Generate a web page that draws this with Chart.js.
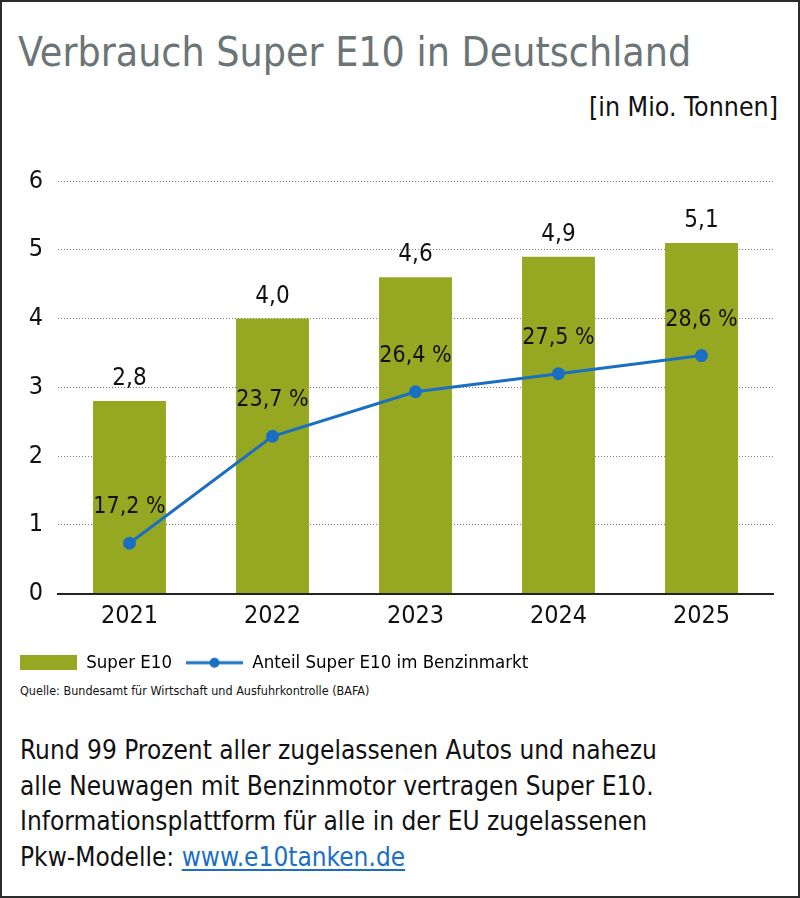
<!DOCTYPE html>
<html>
<head>
<meta charset="utf-8">
<script src="https://cdn.jsdelivr.net/npm/chart.js@4"></script>
<style>
  html, body { margin: 0; padding: 0; background: #fff; }
  #wrap { position: relative; width: 800px; height: 898px; box-sizing: border-box; border: 2px solid #2b2b2b; overflow: hidden; }
  .t { position: absolute; white-space: nowrap; color: #111; }
  #title { left: 16px; top: 26px; font-size: 40.7px; color: #6b7476; }
  #unit { right: 20px; top: 89px; font-size: 26.5px; }
  #src { left: 18px; top: 681px; font-size: 12.5px; }
  #note { left: 18px; top: 731px; font-size: 26px; line-height: 35.5px; white-space: normal; width: 770px; }
  #note a { color: #1a6fc2; text-decoration: underline; text-underline-offset: 3px; }
  #cwrap { position: absolute; left: -2px; top: 148px; width: 798px; height: 532px; }
</style>
</head>
<body>
<div id="wrap">
  <div id="title" class="t">Verbrauch Super E10 in Deutschland</div>
  <div id="unit" class="t">[in Mio. Tonnen]</div>
  <div id="cwrap"><canvas id="c"></canvas></div>
  <div id="src" class="t">Quelle: Bundesamt für Wirtschaft und Ausfuhrkontrolle (BAFA)</div>
  <div id="note" class="t">Rund 99 Prozent aller zugelassenen Autos und nahezu<br>alle Neuwagen mit Benzinmotor vertragen Super E10.<br>Informationsplattform für alle in der EU zugelassenen<br>Pkw-Modelle: <a href="#">www.e10tanken.de</a></div>
</div>
<script>
// ---- data ----
const years = ['2021', '2022', '2023', '2024', '2025'];
const consumption = [2.8, 4.0, 4.6, 4.9, 5.1];        // Mio. Tonnen
const consumptionLabels = ['2,8', '4,0', '4,6', '4,9', '5,1'];
const share = [17.2, 23.7, 26.4, 27.5, 28.6];         // Anteil in %
const shareLabels = ['17,2 %', '23,7 %', '26,4 %', '27,5 %', '28,6 %'];
const yTicks = [0, 1, 2, 3, 4, 5, 6];
const seriesNames = ['Super E10', 'Anteil Super E10 im Benzinmarkt'];

const GREEN = '#96a822';
const BLUE = '#1b6fc2';

// ---- font pick ----
function available(name) {
  const c = document.createElement('canvas').getContext('2d');
  const s = 'abcdefghijklmnopqrstuvwxyz0123456789';
  c.font = '40px monospace'; const a = c.measureText(s).width;
  c.font = '40px "' + name + '", monospace'; const b = c.measureText(s).width;
  c.font = '40px serif'; const a2 = c.measureText(s).width;
  c.font = '40px "' + name + '", serif'; const b2 = c.measureText(s).width;
  return a !== b || a2 !== b2;
}
const cands = ['Liberation Sans Narrow', 'DejaVu Sans Condensed', 'Roboto Condensed', 'Open Sans Condensed', 'Lato'];
let FONT = 'Lato';
for (const f of cands) { if (available(f)) { FONT = f; break; } }
document.getElementById('wrap').style.fontFamily = '"' + FONT + '", sans-serif';

// ---- legend symbols ----
function rectSym() {
  const cv = document.createElement('canvas'); cv.width = 57; cv.height = 15;
  const g = cv.getContext('2d'); g.fillStyle = GREEN; g.fillRect(0, 0, 57, 15); return cv;
}
function lineSym() {
  const cv = document.createElement('canvas'); cv.width = 57; cv.height = 14;
  const g = cv.getContext('2d'); g.strokeStyle = BLUE; g.lineWidth = 3;
  g.beginPath(); g.moveTo(0, 7); g.lineTo(57, 7); g.stroke();
  g.fillStyle = BLUE; g.beginPath(); g.arc(28.5, 7, 5, 0, Math.PI * 2); g.fill(); return cv;
}
const symbols = [rectSym(), lineSym()];

// ---- value labels plugin ----
const valueLabels = {
  id: 'valueLabels',
  afterDatasetsDraw(chart) {
    const ctx = chart.ctx;
    ctx.save();
    ctx.fillStyle = '#111';
    ctx.textAlign = 'center';
    ctx.textBaseline = 'alphabetic';
    ctx.font = '24px "' + FONT + '", sans-serif';
    chart.getDatasetMeta(0).data.forEach((el, i) => {
      ctx.fillText(consumptionLabels[i], el.x, el.y - 16);
    });
    ctx.font = '23px "' + FONT + '", sans-serif';
    chart.getDatasetMeta(1).data.forEach((el, i) => {
      ctx.fillText(shareLabels[i], el.x, el.y - 30);
    });
    ctx.restore();
  }
};

Chart.defaults.font.family = '"' + FONT + '", sans-serif';
Chart.defaults.color = '#111';

new Chart(document.getElementById('c'), {
  data: {
    labels: years,
    datasets: [
      {
        type: 'bar', label: seriesNames[0], data: consumption,
        backgroundColor: GREEN, barPercentage: 0.51, categoryPercentage: 1.0,
        yAxisID: 'y', order: 2
      },
      {
        type: 'line', label: seriesNames[1], data: share,
        borderColor: BLUE, backgroundColor: BLUE, borderWidth: 3,
        pointRadius: 5, pointHoverRadius: 5, tension: 0,
        yAxisID: 'y2', order: 1
      }
    ]
  },
  options: {
    responsive: true, maintainAspectRatio: false, animation: false,
    devicePixelRatio: 1,
    layout: { padding: { left: 6, right: 25, top: 31, bottom: 0 } },
    plugins: {
      tooltip: { enabled: false },
      legend: {
        position: 'bottom', align: 'start',
        labels: {
          usePointStyle: true, pointStyleWidth: 57, boxHeight: 15,
          padding: 14, font: { size: 18.5 }, color: '#111',
          generateLabels(chart) {
            return seriesNames.map((n, i) => ({
              text: n, datasetIndex: i, pointStyle: symbols[i],
              fillStyle: i ? BLUE : GREEN, strokeStyle: 'transparent', lineWidth: 0, hidden: false
            }));
          }
        }
      }
    },
    scales: {
      x: {
        grid: { display: false, drawTicks: false },
        border: { display: true, color: '#222', width: 2 },
        ticks: { font: { size: 25 }, color: '#111', padding: 8 }
      },
      y: {
        min: 0, max: 6,
        afterBuildTicks(s) { s.ticks = yTicks.map(v => ({ value: v })); },
        afterFit(s) { s.width = 52; },
        grid: { color: '#777', lineWidth: 1, drawTicks: false },
        border: { display: false, dash: [1, 2] },
        ticks: { font: { size: 25 }, color: '#111', padding: 15, align: 'center' }
      },
      y2: {
        display: false, position: 'right', min: 14.15, max: 39.2
      }
    }
  },
  plugins: [valueLabels]
});
</script>
</body>
</html>
